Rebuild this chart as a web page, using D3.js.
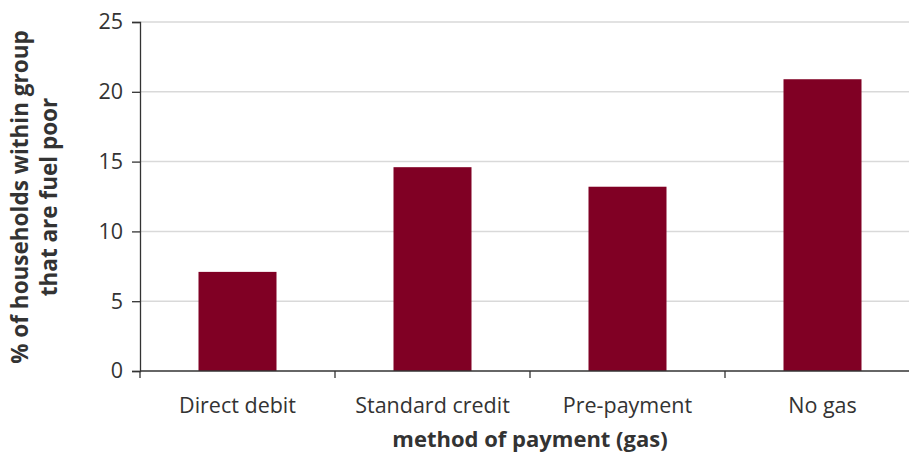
<!DOCTYPE html>
<html>
<head>
<meta charset="utf-8">
<script src="https://cdn.jsdelivr.net/npm/d3@7"></script>
<style>
  body { margin: 0; background: #fff; }
  svg { display: block; font-family: "Open Sans", sans-serif; }
</style>
</head>
<body>
<svg id="chart" width="909" height="453"></svg>
<script>
const categories = ["Direct debit", "Standard credit", "Pre-payment", "No gas"];
const values = [7.1, 14.6, 13.2, 20.9];
const yTicks = [0, 5, 10, 15, 20, 25];
const yTitleLines = ["% of households within group", "that are fuel poor"];
const xTitle = "method of payment (gas)";

const svg = d3.select("#chart");
const plotLeft = 140, plotRight = 920, plotTop = 22, plotBottom = 371;
const fontSize = 21.5;

const x = d3.scaleBand().domain(categories).range([plotLeft, plotRight]).paddingInner(0.6).paddingOuter(0.3);
const y = d3.scaleLinear().domain([0, 25]).range([plotBottom, plotTop]);

// gridlines
svg.append("g").selectAll("line").data(yTicks.filter(d => d > 0)).join("line")
  .attr("x1", plotLeft).attr("x2", plotRight)
  .attr("y1", d => y(d)).attr("y2", d => y(d))
  .attr("stroke", "#d9d9d9").attr("stroke-width", 1.5);

// bars
svg.append("g").selectAll("rect").data(values).join("rect")
  .attr("x", (d, i) => x(categories[i]))
  .attr("width", x.bandwidth())
  .attr("y", d => y(d))
  .attr("height", d => y(0) - y(d))
  .attr("fill", "#800024");

// y axis
const yAxis = svg.append("g").attr("transform", `translate(${plotLeft},0)`)
  .call(d3.axisLeft(y).tickValues(yTicks).tickSize(8).tickPadding(9));
yAxis.select(".domain").attr("stroke", "#333").attr("stroke-width", 1.3);
yAxis.selectAll(".tick line").attr("stroke", "#333").attr("stroke-width", 1.3);
yAxis.selectAll(".tick text").attr("fill", "#333").attr("font-size", fontSize).attr("font-family", "Open Sans, sans-serif");

// x axis
const tickPos = categories.map(c => x(c) - x.step() * x.paddingInner() / 2).concat([plotRight]);
const xg = svg.append("g");
xg.append("line").attr("x1", plotLeft).attr("x2", plotRight).attr("y1", plotBottom).attr("y2", plotBottom)
  .attr("stroke", "#333").attr("stroke-width", 1.3);
xg.selectAll("line.t").data(tickPos).join("line").attr("class", "t")
  .attr("x1", d => d).attr("x2", d => d).attr("y1", plotBottom).attr("y2", plotBottom + 7)
  .attr("stroke", "#333").attr("stroke-width", 1.3);
xg.selectAll("text").data(categories).join("text")
  .attr("x", d => x(d) + x.bandwidth() / 2).attr("y", 413)
  .attr("text-anchor", "middle").attr("fill", "#333").attr("font-size", fontSize)
  .text(d => d);

// axis titles
svg.append("text").attr("x", 530).attr("y", 447).attr("text-anchor", "middle")
  .attr("font-weight", "bold").attr("font-size", 22).attr("fill", "#333").text(xTitle);

const yt = svg.append("text").attr("transform", "translate(0,197) rotate(-90)")
  .attr("text-anchor", "middle").attr("font-weight", "bold").attr("font-size", 22.5).attr("fill", "#333");
yt.selectAll("tspan").data(yTitleLines).join("tspan")
  .attr("x", 0).attr("y", (d, i) => 28 + i * 29).text(d => d);
</script>
</body>
</html>
